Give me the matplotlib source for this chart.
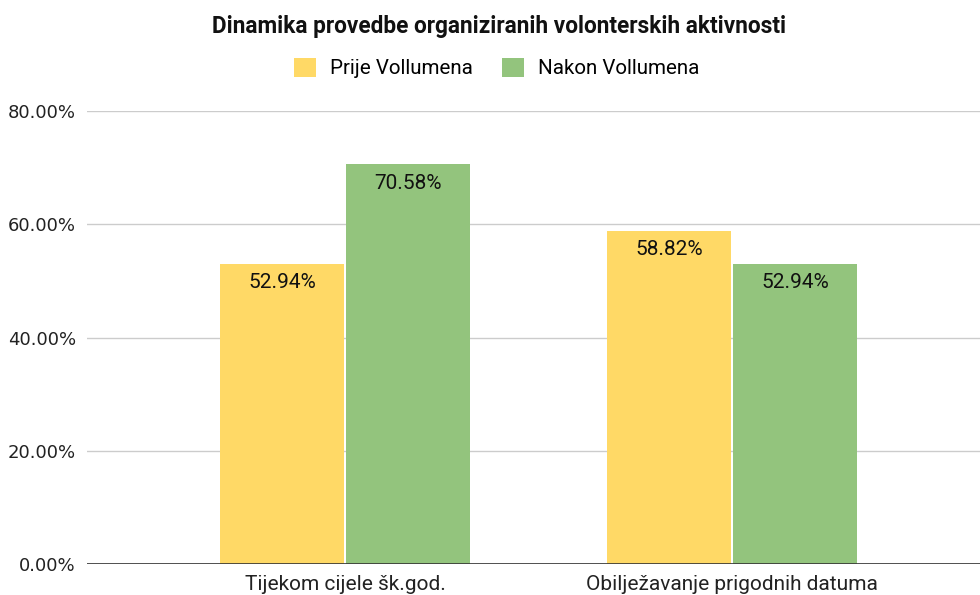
import matplotlib.pyplot as plt
import numpy as np
from matplotlib.ticker import FuncFormatter

categories = ["Tijekom cijele šk.god.", "Obilježavanje prigodnih datuma"]
series_names = ["Prije Vollumena", "Nakon Vollumena"]
prije = [52.94, 58.82]
nakon = [70.58, 52.94]
colors = ["#FFD966", "#93C47D"]

plt.rcParams['font.family'] = ['Roboto', 'DejaVu Sans']

fig = plt.figure(figsize=(9.8, 5.95), dpi=100)
ax = fig.add_axes([0.0888, 0.0521, 0.9112, 0.7613])

x = np.arange(len(categories))
width = 0.32
offset = 0.163

for vals, name, col, sign in [(prije, series_names[0], colors[0], -1), (nakon, series_names[1], colors[1], 1)]:
    bars = ax.bar(x + sign * offset, vals, width, color=col, label=name, zorder=3)
    for b, v in zip(bars, vals):
        ax.annotate("%.2f%%" % v, (b.get_x() + b.get_width() / 2, v),
                    xytext=(0, -13.5), textcoords="offset points",
                    ha="center", va="center", fontsize=15, color="#111111", zorder=4)

ax.set_xlim(-0.667, 0.641 + 1)
ax.set_ylim(0, 80)
ax.set_yticks([0, 20, 40, 60, 80])
ax.yaxis.set_major_formatter(FuncFormatter(lambda v, p: "%.2f%%" % v))
for lab in ax.get_yticklabels():
    lab.set_fontfamily("DejaVu Sans")
    lab.set_fontsize(13)
ax.set_xticks(x)
ax.set_xticklabels(categories, fontsize=15)
ax.tick_params(axis="both", length=0, colors="#222222")
ax.tick_params(axis="y", pad=8)
ax.tick_params(axis="x", pad=8)

ax.grid(axis="y", color="#cccccc", linewidth=1, zorder=0)
ax.axhline(0, color="#333333", linewidth=1.2, zorder=5)
for s in ax.spines.values():
    s.set_visible(False)

fig.text(0.509, 0.955, "Dinamika provedbe organiziranih volonterskih aktivnosti",
         ha="center", va="center", fontsize=16.3, fontweight="bold", color="#111111")
fig.legend(loc="center", bbox_to_anchor=(0.507, 0.886), ncol=2, frameon=False,
           fontsize=14.8, handlelength=1.05, handleheight=1.05, columnspacing=1.4,
           handletextpad=0.7)

fig.savefig("out.png", dpi=100)
